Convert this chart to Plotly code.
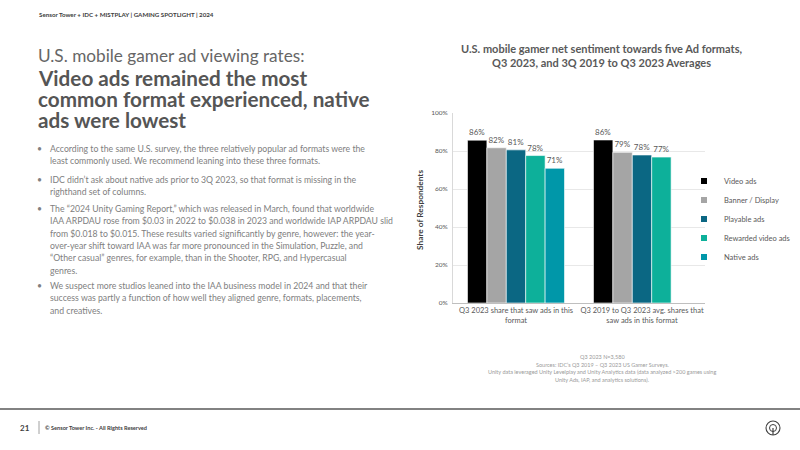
import plotly.graph_objects as go

# ---------------- data ----------------
categories = [
    "Q3 2023 share that saw ads in this<br>format",
    "Q3 2019 to Q3 2023 avg. shares that<br>saw ads in this format",
]
series_names = ["Video ads", "Banner / Display", "Playable ads", "Rewarded video ads", "Native ads"]
video_ads = [85.7, 85.8]
banner_display = [81.7, 79.3]
playable_ads = [80.6, 77.9]
rewarded_video_ads = [77.6, 76.8]
native_ads = [70.9, None]
series_values = [video_ads, banner_display, playable_ads, rewarded_video_ads, native_ads]
series_colors = ["#000000", "#A5A5A5", "#0B6783", "#0DB09A", "#0097A9"]
y_ticks = [0, 20, 40, 60, 80, 100]
y_tick_labels = ["0%", "20%", "40%", "60%", "80%", "100%"]

bullets = [
    ["According to the same U.S. survey, the three relatively popular ad formats were the",
     "least commonly used. We recommend leaning into these three formats."],
    ["IDC didn\u2019t ask about native ads prior to 3Q 2023, so that format is missing in the",
     "righthand set of columns."],
    ["The \u201c2024 Unity Gaming Report,\u201d which was released in March, found that worldwide",
     "IAA ARPDAU rose from $0.03 in 2022 to $0.038 in 2023 and worldwide IAP ARPDAU slid",
     "from $0.018 to $0.015. These results varied significantly by genre, however: the year-",
     "over-year shift toward IAA was far more pronounced in the Simulation, Puzzle, and",
     "\u201cOther casual\u201d genres, for example, than in the Shooter, RPG, and Hypercasual",
     "genres."],
    ["We suspect more studios leaned into the IAA business model in 2024 and that their",
     "success was partly a function of how well they aligned genre, formats, placements,",
     "and creatives."],
]
footnote_lines = [
    "Q3 2023 N=3,580",
    "Sources: IDC\u2019s Q3 2019 \u2013 Q3 2023 US Gamer Surveys.",
    "Unity data leveraged Unity Levelplay and Unity Analytics data (data analyzed >200 games using",
    "Unity Ads, IAP, and analytics solutions).",
]

FONT = "Lato"
W, H = 800, 450
DY = -1  # vertical text adjustment

fig = go.Figure()
for name, vals, col in zip(series_names, series_values, series_colors):
    fig.add_trace(go.Bar(
        name=name, x=categories, y=vals, showlegend=False,
        marker=dict(color=col, line=dict(color="white", width=0.6)),
        texttemplate="%{y:.0f}%", textposition="outside",
        textfont=dict(family=FONT, size=8, color="#595959"),
        cliponaxis=False, hoverinfo="skip",
    ))
# legend entries (small square swatches)
for name, col in zip(series_names, series_colors):
    fig.add_trace(go.Scatter(
        name=name, x=[None], y=[None], mode="markers",
        marker=dict(symbol="square", size=6, color=col), showlegend=True,
    ))

fig.update_layout(
    width=W, height=H,
    margin=dict(l=0, r=0, t=0, b=0, autoexpand=False),
    paper_bgcolor="white", plot_bgcolor="white",
    barmode="group", bargap=0.23, bargroupgap=0,
    showlegend=True,
    legend=dict(x=684 / W, y=1 - 219 / H, xanchor="left", yanchor="middle",
                font=dict(family=FONT, size=7.5, color="#595959"),
                bgcolor="rgba(0,0,0,0)", tracegroupgap=0, itemwidth=30),
    xaxis=dict(domain=[453 / W, 705 / W], showgrid=False, showline=True,
               linecolor="#BFBFBF", linewidth=1, ticks="", tickangle=0, automargin=False,
               tickfont=dict(family=FONT, size=7.5, color="#595959")),
    yaxis=dict(domain=[1 - 303 / H, 1 - 113 / H], range=[0, 100], automargin=False,
               tickvals=y_ticks, ticktext=y_tick_labels, ticklabelstandoff=3,
               showgrid=True, gridcolor="#E8E8E8", gridwidth=1,
               showline=True, linecolor="#D9D9D9", linewidth=1,
               zeroline=False, ticks="",
               tickfont=dict(family=FONT, size=6.5, color="#595959")),
)

ann = []
def txt(x, y, s, size, color="#595959", xanchor="left", angle=0):
    ann.append(dict(x=x / W, y=1 - (y + DY) / H, xref="paper", yref="paper", text=s,
                    showarrow=False, xanchor=xanchor, yanchor="middle",
                    align="center" if xanchor == "center" else xanchor, textangle=angle,
                    font=dict(family=FONT, size=size, color=color)))

# header
txt(37, 16, "<b>Sensor Tower + IDC + MISTPLAY | GAMING SPOTLIGHT | 2024</b>", 6.2, "#404040")
# title
txt(36, 56.5, "U.S. mobile gamer ad viewing rates:", 17.2, "#666666")
txt(36, 79.5, "<b>Video ads remained the most</b>", 20.7, "#555555")
txt(36, 100, "<b>common format experienced, native</b>", 20.7, "#555555")
txt(36, 120.5, "<b>ads were lowest</b>", 20.7, "#555555")

# bullets
bullet_starts = [149.5, 180.5, 209.5, 286.5]
for start, lines in zip(bullet_starts, bullets):
    txt(35, start, "\u2022", 8.7, "#808080")
    for i, line in enumerate(lines):
        txt(48, start + i * 12.3, line, 8.7, "#808080")

# chart title
txt(601, 49, "<b>U.S. mobile gamer net sentiment towards five Ad formats,</b>", 11, "#595959", "center")
txt(601, 63, "<b>Q3 2023, and 3Q 2019 to Q3 2023 Averages</b>", 11, "#595959", "center")

# y axis title
txt(420, 211, "<b>Share of Respondents</b>", 8.3, "#404040", "center", -90)

# footnote
for i, line in enumerate(footnote_lines):
    txt(602, 358 + i * 7.6, line, 5.5, "#9A9A9A", "center")

# footer
txt(18, 428.5, "<b>21</b>", 8, "#404040")
txt(43, 428.5, "<b>\u00a9 Sensor Tower Inc. - All Rights Reserved</b>", 5.6, "#404040")

fig.update_layout(annotations=ann)

shapes = [
    dict(type="line", xref="paper", yref="paper", x0=0, x1=1, y0=1 - 409 / H, y1=1 - 409 / H,
         line=dict(color="#595959", width=1.3)),
    dict(type="line", xref="paper", yref="paper", x0=39 / W, x1=39 / W, y0=1 - 421 / H, y1=1 - 434 / H,
         line=dict(color="#888888", width=0.8)),
    # logo
    dict(type="circle", xref="paper", yref="paper", x0=766 / W, x1=780 / W, y0=1 - 435 / H, y1=1 - 421 / H,
         line=dict(color="#404040", width=1.1)),
    dict(type="circle", xref="paper", yref="paper", x0=769.5 / W, x1=776.5 / W, y0=1 - 431.5 / H, y1=1 - 424.5 / H,
         line=dict(color="#404040", width=1.0)),
    dict(type="line", xref="paper", yref="paper", x0=773 / W, x1=773 / W, y0=1 - 428 / H, y1=1 - 435 / H,
         line=dict(color="#404040", width=1.2)),
]
fig.update_layout(shapes=shapes)

fig.write_html("out.html")
